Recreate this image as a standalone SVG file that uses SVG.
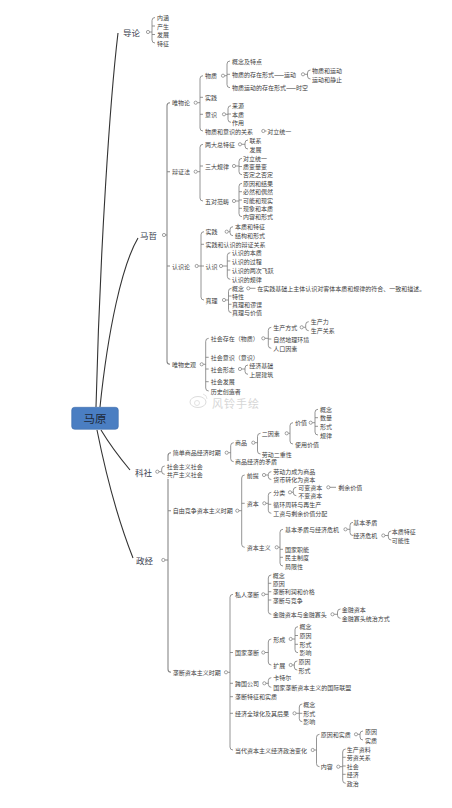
<svg xmlns="http://www.w3.org/2000/svg" width="452" height="808" viewBox="0 0 452 808">
<style>
text{font-family:"Noto Sans CJK SC","Noto Sans CJK JP",sans-serif;dominant-baseline:central;fill:#404040}
.t{font-size:6px}
.m{font-size:8.5px;fill:#3a4150}
.b{fill:none;stroke:#7a7a7a;stroke-width:0.8}
.s{fill:none;stroke:#888;stroke-width:1.1}
.c{fill:#fff;stroke:#666;stroke-width:0.6}
.k{fill:none;stroke:#333;stroke-width:1.1}
</style>
<rect width="452" height="808" fill="#fff"/>
<g id="watermark">
<ellipse cx="198" cy="402" rx="8" ry="5.5" fill="none" stroke="#dcdcdc" stroke-width="1"/>
<circle cx="197" cy="403" r="2.5" fill="none" stroke="#dcdcdc" stroke-width="0.8"/>
<path d="M203,394 q4,1 4,5" fill="none" stroke="#dcdcdc" stroke-width="0.8"/>
<text x="212" y="403" style="font-size:11px;fill:#d6d6d6;letter-spacing:1px">风铃手绘</text>
</g>
<g id="connectors">
<path class="k" d="M96,407 C100,250 110,100 118,33"/>
<path class="k" d="M100,407 C108,330 122,265 138,238"/>
<path class="k" d="M101,430 C110,445 120,458 130,470"/>
<path class="k" d="M97,430 C105,470 118,520 133,558"/>
<!-- 导论 -->
<path class="b" d="M149.6,32H152 M155,17.5Q152,17.5 152,20.5V40Q152,43 155,43 M152,26h3 M152,34.5h3"/>
<!-- 马哲 spine -->
<path class="s" d="M165.6,235H167 M170,102.7Q167,102.7 167,105.7V361.3Q167,364.3 170,364.3 M167,171.7h3 M167,266h3"/>
<!-- 唯物论 -->
<path class="b" d="M197.3,102.7H200 M203,75.7Q200,75.7 200,78.7V128Q200,131 203,131 M200,97.3h3 M200,114.3h3"/>
<path class="b" d="M224.6,75.7H227 M230,61Q227,61 227,64V84.7Q227,87.7 230,87.7 M227,74.3h3"/>
<path class="b" d="M304.6,74.3H307.5 M310.5,70Q307.5,70 307.5,73V76Q307.5,79 310.5,79"/>
<path class="b" d="M225.6,114.3H228 M231,105.7Q228,105.7 228,108.7V119.3Q228,122.3 231,122.3 M228,114h3"/>
<path class="b" d="M264.9,131H266.5"/>
<!-- 辩证法 -->
<path class="b" d="M197.3,171.7H200 M203,144.3Q200,144.3 200,147.3V198Q200,201 203,201 M200,166h3"/>
<path class="b" d="M241.6,144.3H245 M248,140Q245,140 245,143V146Q245,149 248,149"/>
<path class="b" d="M235.6,166H239 M242,158.3Q239,158.3 239,161.3V171.7Q239,174.7 242,174.7 M239,166.5h3"/>
<path class="b" d="M235.6,201H239 M242,183.3Q239,183.3 239,186.3V213.7Q239,216.7 242,216.7 M239,191.7h3 M239,200h3 M239,208.3h3"/>
<!-- 认识论 -->
<path class="b" d="M198.3,266H201 M204,231.7Q201,231.7 201,234.7V297Q201,300 204,300 M201,244.3h3 M201,266h3"/>
<path class="b" d="M228.3,231.7H230 M233,226.7Q230,226.7 230,229.7V232.7Q230,235.7 233,235.7"/>
<path class="b" d="M222.6,266H227.3 M230.3,252.7Q227.3,252.7 227.3,255.7V276.3Q227.3,279.3 230.3,279.3 M227.3,261h3 M227.3,270h3"/>
<path class="b" d="M225.6,300H228.5 M231.5,288.3Q228.5,288.3 228.5,291.3V309.7Q228.5,312.7 231.5,312.7 M228.5,296h3 M228.5,304.3h3"/>
<path class="b" d="M249.9,288.3H255.5"/>
<!-- 唯物史观 -->
<path class="b" d="M203.3,364.3H205.7 M208.7,338.3Q205.7,338.3 205.7,341.3V388Q205.7,391 208.7,391 M205.7,357.3h3 M205.7,369h3 M205.7,381.7h3"/>
<path class="b" d="M264.9,338.3H268.3 M271.3,327.3Q268.3,327.3 268.3,330.3V345.3Q268.3,348.3 271.3,348.3 M268.3,339h3"/>
<path class="b" d="M303.3,327.3H305.7 M308.7,321.7Q305.7,321.7 305.7,324.7V327.7Q305.7,330.7 308.7,330.7"/>
<path class="b" d="M241.6,369H245 M248,365Q245,365 245,368V371.3Q245,374.3 248,374.3"/>
<!-- 科社 -->
<path class="b" d="M158.9,471.7H161.7 M164.7,466Q161.7,466 161.7,469V471.3Q161.7,474.3 164.7,474.3"/>
<!-- 政经 spine -->
<path class="s" d="M164.9,560H168 M171,452.7Q168,452.7 168,455.7V461 M168,479V669.3Q168,672.3 171,672.3 M168,510.7h3"/>
<!-- 简单商品经济时期 -->
<path class="b" d="M228.3,452.7H230.7 M233.7,442.7Q230.7,442.7 230.7,445.7V458.7Q230.7,461.7 233.7,461.7"/>
<path class="b" d="M254.9,442.7H257.5 M260.5,433.3Q257.5,433.3 257.5,436.3V451Q257.5,454 260.5,454"/>
<path class="b" d="M288.3,433.3H290 M293,422.7Q290,422.7 290,425.7V441Q290,444 293,444"/>
<path class="b" d="M312.3,422.7H315 M318,409.3Q315,409.3 315,412.3V432Q315,435 318,435 M315,417.7h3 M315,426.3h3"/>
<!-- 自由竞争资本主义时期 -->
<path class="b" d="M238.9,510.7H241.7 M244.7,475Q241.7,475 241.7,478V544.3Q241.7,547.3 244.7,547.3 M241.7,503.3h3"/>
<path class="b" d="M265.6,475H268.3 M271.3,471.7Q268.3,471.7 268.3,474.5V476.7Q268.3,479.5 271.3,479.5"/>
<path class="b" d="M265.9,503.3H268.3 M271.3,492.3Q268.3,492.3 268.3,495.3V510.3Q268.3,513.3 271.3,513.3 M268.3,504.3h3"/>
<path class="b" d="M291.6,492.3H293.3 M296.3,487.3Q293.3,487.3 293.3,490.3V492.7Q293.3,495.7 296.3,495.7"/>
<path class="b" d="M329.9,487.3H336"/>
<path class="b" d="M278.3,547.3H280 M283,529.3Q280,529.3 280,532.3V563Q280,566 283,566 M280,549.3h3 M280,557.3h3"/>
<path class="b" d="M347.1,529.3H350 M353,522.3Q350,522.3 350,525.3V532.5Q350,535.5 353,535.5"/>
<path class="b" d="M384.9,535.5H388.3 M391.3,531Q388.3,531 388.3,534V537Q388.3,540 391.3,540"/>
<!-- 垄断资本主义时期 -->
<path class="b" d="M227.6,672.3H230 M233,594.3Q230,594.3 230,597.3V747Q230,750 233,750 M230,652.5h3 M230,683.3h3 M230,696.7h3 M230,713.3h3"/>
<path class="b" d="M264.9,594.3H268.3 M271.3,575Q268.3,575 268.3,578V611.3Q268.3,614.3 271.3,614.3 M268.3,583.3h3 M268.3,591.7h3 M268.3,600h3"/>
<path class="b" d="M334.1,614.3H337.5 M340.5,609Q337.5,609 337.5,612V615.3Q337.5,618.3 340.5,618.3"/>
<path class="b" d="M264.9,652.5H268.3 M271.3,639Q268.3,639 268.3,642V662Q268.3,665 271.3,665"/>
<path class="b" d="M292.3,639H295 M298,626.7Q295,626.7 295,629.7V649.7Q295,652.7 298,652.7 M295,635.5h3 M295,644.3h3"/>
<path class="b" d="M292.3,665H294.3 M297.3,661Q294.3,661 294.3,664V667Q294.3,670 297.3,670"/>
<path class="b" d="M265.9,683.3H268.3 M271.3,677.7Q268.3,677.7 268.3,680.7V684.3Q268.3,687.3 271.3,687.3"/>
<path class="b" d="M296.1,713.3H299.3 M302.3,704Q299.3,704 299.3,707V718.7Q299.3,721.7 302.3,721.7 M299.3,713.3h3"/>
<path class="b" d="M314.3,750H316.5 M319.5,734.3Q316.5,734.3 316.5,737.3V763.7Q316.5,766.7 319.5,766.7"/>
<path class="b" d="M357.6,734.3H360 M363,731Q360,731 360,734V737Q360,740 363,740"/>
<path class="b" d="M339.9,766.7H342.7 M345.7,749Q342.7,749 342.7,752V780.3Q342.7,783.3 345.7,783.3 M342.7,757.3h3 M342.7,766h3 M342.7,774.3h3"/>
<!-- parent circles -->
<circle class="c" cx="148" cy="32" r="1.6"/>
<circle class="c" cx="164" cy="235" r="1.6"/>
<circle class="c" cx="195.7" cy="102.7" r="1.6"/>
<circle class="c" cx="223" cy="75.7" r="1.6"/>
<circle class="c" cx="303" cy="74.3" r="1.6"/>
<circle class="c" cx="224" cy="114.3" r="1.6"/>
<circle class="c" cx="263.3" cy="131" r="1.6"/>
<circle class="c" cx="195.7" cy="171.7" r="1.6"/>
<circle class="c" cx="240" cy="144.3" r="1.6"/>
<circle class="c" cx="234" cy="166" r="1.6"/>
<circle class="c" cx="234" cy="201" r="1.6"/>
<circle class="c" cx="196.7" cy="266" r="1.6"/>
<circle class="c" cx="226.7" cy="231.7" r="1.6"/>
<circle class="c" cx="221" cy="266" r="1.6"/>
<circle class="c" cx="224" cy="300" r="1.6"/>
<circle class="c" cx="248.3" cy="288.3" r="1.6"/>
<circle class="c" cx="201.7" cy="364.3" r="1.6"/>
<circle class="c" cx="263.3" cy="338.3" r="1.6"/>
<circle class="c" cx="301.7" cy="327.3" r="1.6"/>
<circle class="c" cx="240" cy="369" r="1.6"/>
<circle class="c" cx="157.3" cy="471.7" r="1.6"/>
<circle class="c" cx="163.3" cy="560" r="1.6"/>
<circle class="c" cx="226.7" cy="452.7" r="1.6"/>
<circle class="c" cx="253.3" cy="442.7" r="1.6"/>
<circle class="c" cx="286.7" cy="433.3" r="1.6"/>
<circle class="c" cx="310.7" cy="422.7" r="1.6"/>
<circle class="c" cx="237.3" cy="510.7" r="1.6"/>
<circle class="c" cx="264" cy="475" r="1.6"/>
<circle class="c" cx="264.3" cy="503.3" r="1.6"/>
<circle class="c" cx="290" cy="492.3" r="1.6"/>
<circle class="c" cx="328.3" cy="487.3" r="1.6"/>
<circle class="c" cx="276.7" cy="547.3" r="1.6"/>
<circle class="c" cx="345.5" cy="529.3" r="1.6"/>
<circle class="c" cx="383.3" cy="535.5" r="1.6"/>
<circle class="c" cx="226" cy="672.3" r="1.6"/>
<circle class="c" cx="263.3" cy="594.3" r="1.6"/>
<circle class="c" cx="332.5" cy="614.3" r="1.6"/>
<circle class="c" cx="263.3" cy="652.5" r="1.6"/>
<circle class="c" cx="290.7" cy="639" r="1.6"/>
<circle class="c" cx="290.7" cy="665" r="1.6"/>
<circle class="c" cx="264.3" cy="683.3" r="1.6"/>
<circle class="c" cx="294.5" cy="713.3" r="1.6"/>
<circle class="c" cx="312.7" cy="750" r="1.6"/>
<circle class="c" cx="356" cy="734.3" r="1.6"/>
<circle class="c" cx="338.3" cy="766.7" r="1.6"/>
</g>
<g id="root">
<rect x="71.7" y="407.3" width="46.6" height="22" rx="3" fill="#4a7ec2" stroke="#3d6cab" stroke-width="0.6"/>
<text x="95" y="418.3" text-anchor="middle" style="font-size:11.5px;fill:#1e2a3a">马原</text>
</g>
<g id="n-daolun"><text class="m" x="123" y="32">导论</text></g>
<g id="n-dl1"><text class="t" x="157" y="17.5">内涵</text></g>
<g id="n-dl2"><text class="t" x="157" y="26">产生</text></g>
<g id="n-dl3"><text class="t" x="157" y="34.5">发展</text></g>
<g id="n-dl4"><text class="t" x="157" y="43">特征</text></g>
<g id="n-mazhe"><text class="m" x="140" y="235">马哲</text></g>
<g id="n-wwl"><text class="t" x="172" y="102.7">唯物论</text></g>
<g id="n-wz"><text class="t" x="205" y="75.7">物质</text></g>
<g id="n-wz1"><text class="t" x="232" y="61">概念及特点</text></g>
<g id="n-wz2"><text class="t" x="232" y="74.3">物质的存在形式——运动</text></g>
<g id="n-wz21"><text class="t" x="312" y="70">物质和运动</text></g>
<g id="n-wz22"><text class="t" x="312" y="79">运动和静止</text></g>
<g id="n-wz3"><text class="t" x="232" y="87.7">物质运动的存在形式——时空</text></g>
<g id="n-sj0"><text class="t" x="205" y="97.3">实践</text></g>
<g id="n-ys"><text class="t" x="205" y="114.3">意识</text></g>
<g id="n-ys1"><text class="t" x="232" y="105.7">来源</text></g>
<g id="n-ys2"><text class="t" x="232" y="114">本质</text></g>
<g id="n-ys3"><text class="t" x="232" y="122.3">作用</text></g>
<g id="n-wy"><text class="t" x="205" y="131">物质和意识的关系</text></g>
<g id="n-wy1"><text class="t" x="267.3" y="131">对立统一</text></g>
<g id="n-bzf"><text class="t" x="172" y="171.7">辩证法</text></g>
<g id="n-ld"><text class="t" x="205" y="144.3">两大总特征</text></g>
<g id="n-ld1"><text class="t" x="249.5" y="140">联系</text></g>
<g id="n-ld2"><text class="t" x="249.5" y="149">发展</text></g>
<g id="n-sd"><text class="t" x="205" y="166">三大规律</text></g>
<g id="n-sd1"><text class="t" x="243" y="158.3">对立统一</text></g>
<g id="n-sd2"><text class="t" x="243" y="166.5">质变量变</text></g>
<g id="n-sd3"><text class="t" x="243" y="174.7">否定之否定</text></g>
<g id="n-wd"><text class="t" x="205" y="201">五对范畴</text></g>
<g id="n-wd1"><text class="t" x="243" y="183.3">原因和结果</text></g>
<g id="n-wd2"><text class="t" x="243" y="191.7">必然和偶然</text></g>
<g id="n-wd3"><text class="t" x="243" y="200">可能和现实</text></g>
<g id="n-wd4"><text class="t" x="243" y="208.3">现象和本质</text></g>
<g id="n-wd5"><text class="t" x="243" y="216.7">内容和形式</text></g>
<g id="n-rsl"><text class="t" x="172" y="266">认识论</text></g>
<g id="n-sj"><text class="t" x="205.5" y="231.7">实践</text></g>
<g id="n-sj1"><text class="t" x="235" y="226.7">本质和特征</text></g>
<g id="n-sj2"><text class="t" x="235" y="235.7">结构和形式</text></g>
<g id="n-sjrs"><text class="t" x="205.5" y="244.3">实践和认识的辩证关系</text></g>
<g id="n-rs"><text class="t" x="205.5" y="266">认识</text></g>
<g id="n-rs1"><text class="t" x="231.7" y="252.7">认识的本质</text></g>
<g id="n-rs2"><text class="t" x="231.7" y="261">认识的过程</text></g>
<g id="n-rs3"><text class="t" x="231.7" y="270">认识的两次飞跃</text></g>
<g id="n-rs4"><text class="t" x="231.7" y="279.3">认识的规律</text></g>
<g id="n-zl"><text class="t" x="205.5" y="300">真理</text></g>
<g id="n-zl1"><text class="t" x="232" y="288.3">概念</text></g>
<g id="n-zl11"><text class="t" x="257.3" y="288.3">在实践基础上主体认识对客体本质和规律的符合、一致和描述。</text></g>
<g id="n-zl2"><text class="t" x="232" y="296">特性</text></g>
<g id="n-zl3"><text class="t" x="232" y="304.3">真理和谬误</text></g>
<g id="n-zl4"><text class="t" x="232" y="312.7">真理与价值</text></g>
<g id="n-wwsg"><text class="t" x="172" y="364.3">唯物史观</text></g>
<g id="n-shcz"><text class="t" x="210.7" y="338.3">社会存在（物质）</text></g>
<g id="n-scfs"><text class="t" x="273.3" y="327.3">生产方式</text></g>
<g id="n-scl"><text class="t" x="310.7" y="321.7">生产力</text></g>
<g id="n-scgx"><text class="t" x="310.7" y="330.7">生产关系</text></g>
<g id="n-zrdl"><text class="t" x="273.3" y="339">自然地理环境</text></g>
<g id="n-rkys"><text class="t" x="273.3" y="348.3">人口因素</text></g>
<g id="n-shys"><text class="t" x="210.7" y="357.3">社会意识（意识）</text></g>
<g id="n-shxt"><text class="t" x="210.7" y="369">社会形态</text></g>
<g id="n-jjjc"><text class="t" x="249.3" y="365">经济基础</text></g>
<g id="n-scjz"><text class="t" x="249.3" y="374.3">上层建筑</text></g>
<g id="n-shfz"><text class="t" x="210.7" y="381.7">社会发展</text></g>
<g id="n-lscz"><text class="t" x="210.7" y="391">历史创造者</text></g>
<g id="n-keshe"><text class="m" x="135" y="471.7">科社</text></g>
<g id="n-shzy"><text class="t" x="166.7" y="466">社会主义社会</text></g>
<g id="n-gczy"><text class="t" x="166.7" y="474.3">共产主义社会</text></g>
<g id="n-zhengjing"><text class="m" x="136" y="560">政经</text></g>
<g id="n-jdsp"><text class="t" x="172.7" y="452.7">简单商品经济时期</text></g>
<g id="n-sp"><text class="t" x="235" y="442.7">商品</text></g>
<g id="n-eys"><text class="t" x="261.7" y="433.3">二因素</text></g>
<g id="n-jz"><text class="t" x="295" y="422.7">价值</text></g>
<g id="n-jz1"><text class="t" x="320" y="409.3">概念</text></g>
<g id="n-jz2"><text class="t" x="320" y="417.7">数量</text></g>
<g id="n-jz3"><text class="t" x="320" y="426.3">形式</text></g>
<g id="n-jz4"><text class="t" x="320" y="435">规律</text></g>
<g id="n-syjz"><text class="t" x="295" y="444">使用价值</text></g>
<g id="n-ldec"><text class="t" x="261.7" y="454">劳动二重性</text></g>
<g id="n-spmd"><text class="t" x="235" y="461.7">商品经济的矛盾</text></g>
<g id="n-zyjz"><text class="t" x="172.7" y="510.7">自由竞争资本主义时期</text></g>
<g id="n-qt"><text class="t" x="246.7" y="475">前提</text></g>
<g id="n-ldl"><text class="t" x="273.3" y="471.7">劳动力成为商品</text></g>
<g id="n-hb"><text class="t" x="273.3" y="479.5">货币转化为资本</text></g>
<g id="n-zb"><text class="t" x="246.7" y="503.3">资本</text></g>
<g id="n-fl"><text class="t" x="273.3" y="492.3">分类</text></g>
<g id="n-kbzb"><text class="t" x="298.3" y="487.3">可变资本</text></g>
<g id="n-syjz2"><text class="t" x="338.3" y="487.3">剩余价值</text></g>
<g id="n-bbzb"><text class="t" x="298.3" y="495.7">不变资本</text></g>
<g id="n-xhzz"><text class="t" x="273.3" y="504.3">循环周转与再生产</text></g>
<g id="n-gz"><text class="t" x="273.3" y="513.3">工资与剩余价值分配</text></g>
<g id="n-zbzy"><text class="t" x="246.7" y="547.3">资本主义</text></g>
<g id="n-jbmd"><text class="t" x="285" y="529.3">基本矛盾与经济危机</text></g>
<g id="n-jbmd1"><text class="t" x="353.3" y="522.3">基本矛盾</text></g>
<g id="n-jjwj"><text class="t" x="353.3" y="535.5">经济危机</text></g>
<g id="n-bztz"><text class="t" x="391.7" y="531">本质特征</text></g>
<g id="n-knx"><text class="t" x="391.7" y="540">可能性</text></g>
<g id="n-gjzn"><text class="t" x="285" y="549.3">国家职能</text></g>
<g id="n-mzzd"><text class="t" x="285" y="557.3">民主制度</text></g>
<g id="n-jxx"><text class="t" x="285" y="566">局限性</text></g>
<g id="n-ldzb"><text class="t" x="172.7" y="672.3">垄断资本主义时期</text></g>
<g id="n-srld"><text class="t" x="235" y="594.3">私人垄断</text></g>
<g id="n-sr1"><text class="t" x="272.7" y="575">概念</text></g>
<g id="n-sr2"><text class="t" x="272.7" y="583.3">原因</text></g>
<g id="n-sr3"><text class="t" x="272.7" y="591.7">垄断利润和价格</text></g>
<g id="n-sr4"><text class="t" x="272.7" y="600">垄断与竞争</text></g>
<g id="n-jrzb"><text class="t" x="272.7" y="614.3">金融资本与金融寡头</text></g>
<g id="n-jr1"><text class="t" x="341.7" y="609">金融资本</text></g>
<g id="n-jr2"><text class="t" x="341.7" y="618.3">金融寡头统治方式</text></g>
<g id="n-gjld"><text class="t" x="235" y="652.5">国家垄断</text></g>
<g id="n-xc"><text class="t" x="273.3" y="639">形成</text></g>
<g id="n-xc1"><text class="t" x="299.5" y="626.7">概念</text></g>
<g id="n-xc2"><text class="t" x="299.5" y="635.5">原因</text></g>
<g id="n-xc3"><text class="t" x="299.5" y="644.3">形式</text></g>
<g id="n-xc4"><text class="t" x="299.5" y="652.7">影响</text></g>
<g id="n-kz"><text class="t" x="273.3" y="665">扩展</text></g>
<g id="n-kz1"><text class="t" x="298.5" y="661">原因</text></g>
<g id="n-kz2"><text class="t" x="298.5" y="670">形式</text></g>
<g id="n-kggs"><text class="t" x="235" y="683.3">跨国公司</text></g>
<g id="n-kg1"><text class="t" x="273.3" y="677.7">卡特尔</text></g>
<g id="n-kg2"><text class="t" x="273.3" y="687.3">国家垄断资本主义的国际联盟</text></g>
<g id="n-ldtz"><text class="t" x="235" y="696.7">垄断特征和实质</text></g>
<g id="n-qqh"><text class="t" x="235" y="713.3">经济全球化及其后果</text></g>
<g id="n-qq1"><text class="t" x="303.3" y="704">概念</text></g>
<g id="n-qq2"><text class="t" x="303.3" y="713.3">形式</text></g>
<g id="n-qq3"><text class="t" x="303.3" y="721.7">影响</text></g>
<g id="n-ddzb"><text class="t" x="235" y="750">当代资本主义经济政治变化</text></g>
<g id="n-yysz"><text class="t" x="320.7" y="734.3">原因和实质</text></g>
<g id="n-yy1"><text class="t" x="365" y="731">原因</text></g>
<g id="n-yy2"><text class="t" x="365" y="740">实质</text></g>
<g id="n-nr"><text class="t" x="320.7" y="766.7">内容</text></g>
<g id="n-nr1"><text class="t" x="346.7" y="749">生产资料</text></g>
<g id="n-nr2"><text class="t" x="346.7" y="757.3">劳资关系</text></g>
<g id="n-nr3"><text class="t" x="346.7" y="766">社会</text></g>
<g id="n-nr4"><text class="t" x="346.7" y="774.3">经济</text></g>
<g id="n-nr5"><text class="t" x="346.7" y="783.3">政治</text></g>
</svg>
